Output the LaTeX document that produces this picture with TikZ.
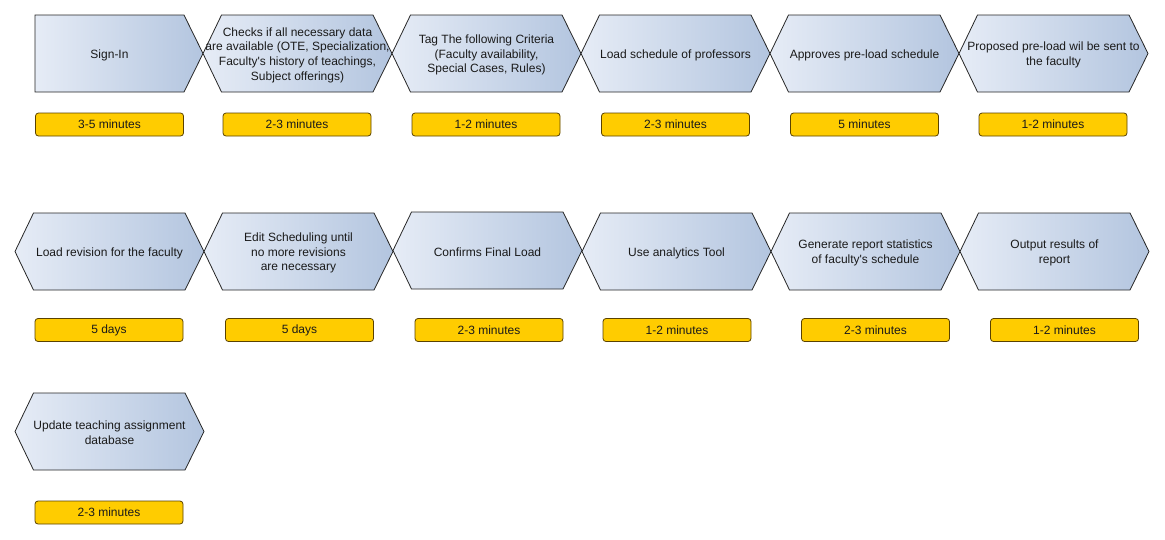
\documentclass[tikz,border=0pt]{standalone}
\usepackage{fontspec}
\setmainfont{Liberation Sans}[Ligatures=TeXOff]
\definecolor{gl}{HTML}{E6ECF6}
\definecolor{gr}{HTML}{B3C5DF}
\definecolor{gold}{HTML}{FFCC00}
\definecolor{goldedge}{HTML}{5A4200}
\definecolor{txt}{HTML}{1A1A1A}
\tikzset{
  stepshape/.style={left color=gl, right color=gr, draw=black!85, line width=0.8pt, line join=miter},
  steptext/.style={align=center, text=txt, font=\fontsize{12}{14.7}\selectfont, inner sep=0pt, yshift=-1.5pt},
  timebox/.style={rectangle, rounded corners=3pt, fill=gold, draw=goldedge, line width=0.8pt,
    minimum width=148pt, minimum height=23pt, inner sep=0pt, text=txt, font=\fontsize{12}{14.7}\selectfont}
}
% #1 left tip x, #2 top y, #3 name, #4 text
\newcommand{\hexstep}[4]{%
  \shadedraw[stepshape] (#1,#2+38.5) -- (#1+18.5,#2) -- (#1+170,#2) -- (#1+189,#2+38.5)
     -- (#1+170,#2+77) -- (#1+18.5,#2+77) -- cycle;
  \node[steptext] (#3) at (#1+94.5,#2+38.5) {#4};}
\begin{document}
\begin{tikzpicture}[x=1pt,y=-1pt]
\useasboundingbox (0,0) rectangle (1165,539);
% Row 1
\shadedraw[stepshape] (35,15) -- (184,15) -- (203,53.5) -- (184,92) -- (35,92) -- cycle;
\node[steptext] (s1) at (109.5,53.5) {Sign-In};
\hexstep{203}{15}{s2}{Checks if all necessary data\\are available (OTE, Specialization,\\Faculty's history of teachings,\\Subject offerings)}
\hexstep{392}{15}{s3}{Tag The following Criteria\\(Faculty availability,\\Special Cases, Rules)}
\hexstep{581}{15}{s4}{Load schedule of professors}
\hexstep{770}{15}{s5}{Approves pre-load schedule}
\hexstep{959}{15}{s6}{Proposed pre-load wil be sent to\\the faculty}
\node[timebox] (t1) at (109.5,124.5) {3-5 minutes};
\node[timebox] (t2) at (297,124.5) {2-3 minutes};
\node[timebox] (t3) at (486,124.5) {1-2 minutes};
\node[timebox] (t4) at (675.5,124.5) {2-3 minutes};
\node[timebox] (t5) at (864.5,124.5) {5 minutes};
\node[timebox] (t6) at (1053,124.5) {1-2 minutes};
% Row 2
\hexstep{15}{213}{s7}{Load revision for the faculty}
\hexstep{204}{213}{s8}{Edit Scheduling until\\no more revisions\\are necessary}
\hexstep{393}{212}{s9}{Confirms Final Load}
\hexstep{582}{213}{s10}{Use analytics Tool}
\hexstep{771}{213}{s11}{Generate report statistics\\of faculty's schedule}
\hexstep{960}{213}{s12}{Output results of\\report}
\node[timebox] (t7) at (109,330) {5 days};
\node[timebox] (t8) at (299.5,330) {5 days};
\node[timebox] (t9) at (489,330) {2-3 minutes};
\node[timebox] (t10) at (677,330) {1-2 minutes};
\node[timebox] (t11) at (875.5,330) {2-3 minutes};
\node[timebox] (t12) at (1064.5,330) {1-2 minutes};
% Row 3
\hexstep{15}{393}{s13}{Update teaching assignment\\database}
\node[timebox] (t13) at (109,512.5) {2-3 minutes};
\end{tikzpicture}
\end{document}
